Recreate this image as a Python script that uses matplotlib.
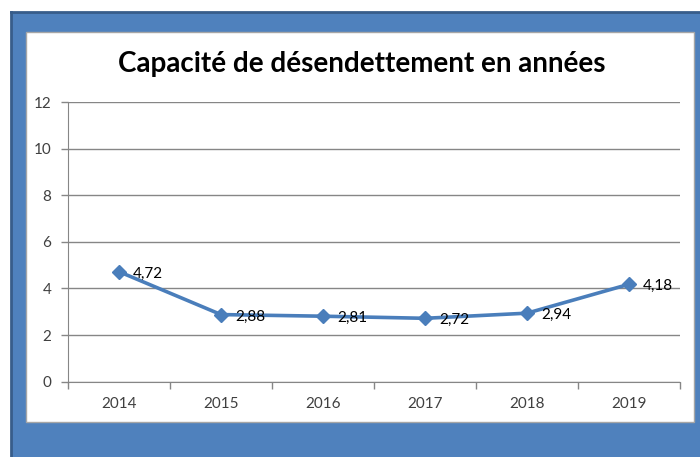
import matplotlib.pyplot as plt
from matplotlib.patches import Rectangle
from matplotlib.lines import Line2D

# Donnees du graphique
annees = ["2014", "2015", "2016", "2017", "2018", "2019"]
capacite = [4.72, 2.88, 2.81, 2.72, 2.94, 4.18]
etiquettes = ["4,72", "2,88", "2,81", "2,72", "2,94", "4,18"]
titre = "Capacité de désendettement en années"

W, H = 700, 457
fig = plt.figure(figsize=(W / 100, H / 100), dpi=100)
fig.patch.set_facecolor("white")

# Cadre bleu et panneau blanc
fig.patches.append(Rectangle((11 / W, 0), 1 - 11 / W, 1 - 12 / H, transform=fig.transFigure,
                             facecolor="#4F81BD", edgecolor="none", zorder=0))
fig.lines.append(Line2D([11 / W, 11 / W], [0, 1 - 12 / H], transform=fig.transFigure,
                        color="#385D8A", lw=2, zorder=1))
fig.lines.append(Line2D([11 / W, 1], [1 - 12 / H, 1 - 12 / H], transform=fig.transFigure,
                        color="#385D8A", lw=2, zorder=1))
fig.patches.append(Rectangle((26 / W, 1 - 422 / H), (694 - 26) / W, (422 - 32) / H,
                             transform=fig.transFigure, facecolor="white",
                             edgecolor="#A6A6A6", lw=1, zorder=1))

fig.text(362 / W, 1 - 64 / H, titre, ha="center", va="center", fontsize=20,
         fontweight="bold", family="Lato", color="black", zorder=3)

ax = fig.add_axes([68 / W, 1 - 381.7 / H, (680 - 68) / W, (381.7 - 102) / H])
ax.set_zorder(2)
ax.patch.set_alpha(0)

x = [i + 0.5 for i in range(len(annees))]
ax.plot(x, capacite, color="#4A7EBB", lw=2.6, marker="D", markersize=7, zorder=3)
for xi, yi, lab in zip(x, capacite, etiquettes):
    ax.annotate(lab, (xi, yi), xytext=(10, -1.5), textcoords="offset points",
                ha="left", va="center", fontsize=11, family="Lato", color="black")

ax.set_xlim(0, len(annees))
ax.set_ylim(0, 12)
ax.set_yticks(range(0, 13, 2))
ax.set_xticks(range(0, len(annees) + 1))
ax.set_xticklabels([])
ax.set_xticks(x, minor=True)
ax.set_xticklabels(annees, minor=True, fontsize=11, family="Lato", color="#404040")
ax.tick_params(axis="x", which="minor", length=0, pad=11)
ax.tick_params(axis="x", which="major", length=5, color="#868686", width=1)
ax.tick_params(axis="y", length=5, color="#868686", width=1, pad=7, labelsize=11,
               labelcolor="#404040")
for lab in ax.get_yticklabels():
    lab.set_family("Lato")
ax.yaxis.grid(True, color="#868686", lw=1)
ax.set_axisbelow(True)
for s in ["top", "right"]:
    ax.spines[s].set_visible(False)
for s in ["left", "bottom"]:
    ax.spines[s].set_color("#868686")

fig.savefig("out.png", dpi=100)
